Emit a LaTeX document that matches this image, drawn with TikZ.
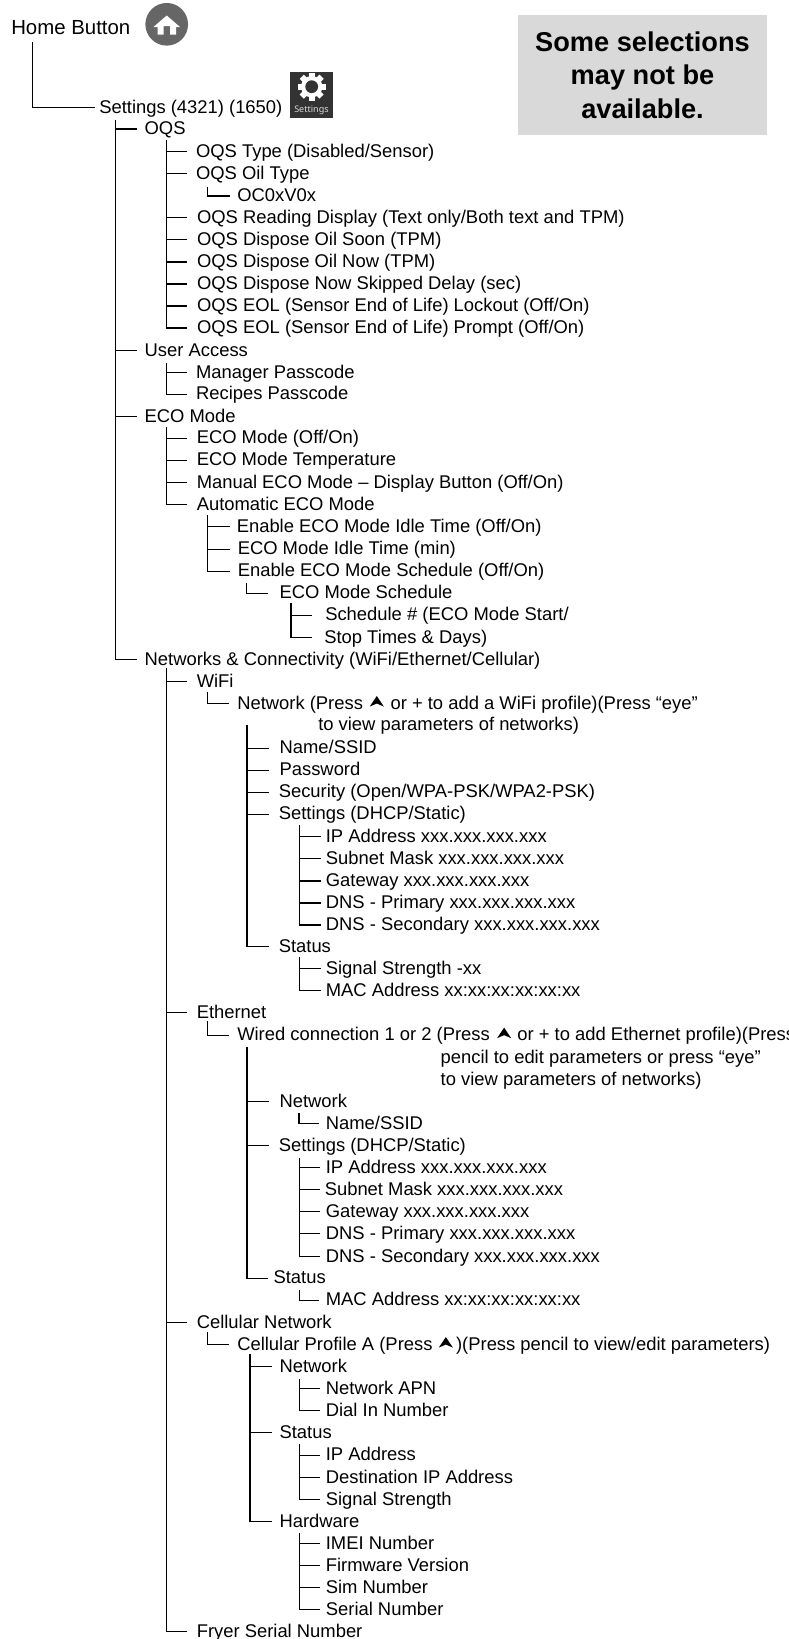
\documentclass[tikz,border=0pt]{standalone}
\usepackage{fontspec}
\usetikzlibrary{calc}
\setmainfont{Liberation Sans}
\newfontfamily\iconfont{Noto Sans}
\definecolor{boxgray}{HTML}{D9D9D9}
\definecolor{homegray}{HTML}{666666}
\definecolor{icondark}{HTML}{333333}
\tikzset{
  ln/.style={draw=black,line width=1pt},
  lab/.style={anchor=west,inner sep=0pt,yshift=-.75pt,text height=10.7pt,text depth=2.7pt,font=\fontsize{13.8}{18}\selectfont},
  note/.style={fill=boxgray,inner sep=0pt,minimum width=186.75pt,minimum height=90pt,align=center,font=\fontsize{20.4}{25}\selectfont\bfseries}
}
\newcommand\lb[4]{\node[lab] (#1) at (#2,#3) {#4};}
\newcommand\tp[3]{\coordinate (#1) at (#2,#3);}
\newcommand\tk[3]{\draw[ln] (#1 |- #2.west) -- ([xshift=-#3*.75pt]#2.west);}
\newcommand\el[3]{\draw[ln] (#1) |- ([xshift=-#3*.75pt]#2.west);}
\newcommand\uphead[2]{\fill[black] ([xshift=#2*.75pt]#1.base east) ++(0,-13) -- ++(7,10.5) -- ++(-7,-3) -- ++(-7,3) -- cycle;}
\begin{document}
\begin{tikzpicture}[x=.75pt,y=-.75pt]
\useasboundingbox (0,0) rectangle (789,1639);
\node[note] (n) at (642.5,75) {Some selections\\may not be\\available.};
% icons
\node[circle,fill=homegray,inner sep=0pt,minimum size=32pt] (hi) at (166.7,24.3) {};
\fill[white] (166.7,15.5) -- (180,27) -- (176,27) -- (176,34.5) -- (170,34.5) -- (170,26) -- (163.5,26) -- (163.5,34.5) -- (157.5,34.5) -- (157.5,27) -- (153.5,27) -- cycle;
\node[fill=icondark,inner sep=0pt,minimum width=32.25pt,minimum height=34.25pt] (si) at (311.5,94.8) {};
\coordinate (g) at (311.7,86.7);
\foreach \a in {0,45,...,315}{\fill[white,rotate around={\a:(g)}] ($(g)+(-3,-14)$) rectangle ($(g)+(3,0)$);}
\fill[white] (g) circle (8pt);
\fill[icondark] (g) circle (4.8pt);
\node[inner sep=0pt,text=white!85!black,font=\iconfont\fontsize{6.8}{8}\selectfont] (st) at (311.5,110.5) {Settings};
% roots
\node[lab,font=\fontsize{15.3}{18}\selectfont] (home) at (11,28) {Home Button};
\lb{set}{99}{106.7}{Settings (4321) (1650)}
\draw[ln] (32.5,42) coordinate (h0) |- ([xshift=-3pt]set.west);
% level 1
\tp{A}{115.7}{120}
\lb{oqs}{144.4}{128}{OQS}
\lb{ua}{144.4}{349.7}{User Access}
\lb{eco}{144.4}{415.7}{ECO Mode}
\lb{net}{144.4}{658.7}{Networks \& Connectivity (WiFi/Ethernet/Cellular)}
\tk{A}{oqs}{7}\tk{A}{ua}{7}\tk{A}{eco}{7}\el{A}{net}{7}
% OQS
\tp{B}{166.6}{140}
\lb{o1}{195.8}{150.7}{OQS Type (Disabled/Sensor)}
\lb{o2}{195.8}{172.7}{OQS Oil Type}
\lb{o3}{196.8}{216.7}{OQS Reading Display (Text only/Both text and TPM)}
\lb{o4}{196.8}{238.7}{OQS Dispose Oil Soon (TPM)}
\lb{o5}{196.8}{261}{OQS Dispose Oil Now (TPM)}
\lb{o6}{196.8}{283}{OQS Dispose Now Skipped Delay (sec)}
\lb{o7}{196.8}{305}{OQS EOL (Sensor End of Life) Lockout (Off/On)}
\lb{o8}{196.8}{327}{OQS EOL (Sensor End of Life) Prompt (Off/On)}
\tk{B}{o1}{9}\tk{B}{o2}{9}\tk{B}{o3}{10}\tk{B}{o4}{10}\tk{B}{o5}{10}\tk{B}{o6}{10}\tk{B}{o7}{10}\el{B}{o8}{10}
\tp{B1}{207.3}{186.7}
\lb{o2a}{237}{195}{OC0xV0x}
\el{B1}{o2a}{7}
% user access
\tp{C}{166.6}{363}
\lb{u1}{195.8}{371.7}{Manager Passcode}
\lb{u2}{195.8}{393.5}{Recipes Passcode}
\tk{C}{u1}{9}\el{C}{u2}{9}
% ECO
\tp{D}{166.6}{427.3}
\lb{e1}{196.5}{437.3}{ECO Mode (Off/On)}
\lb{e2}{196.5}{459.3}{ECO Mode Temperature}
\lb{e3}{196.5}{481.7}{Manual ECO Mode – Display Button (Off/On)}
\lb{e4}{196.5}{503.7}{Automatic ECO Mode}
\tk{D}{e1}{9.5}\tk{D}{e2}{9.5}\tk{D}{e3}{9.5}\el{D}{e4}{9.5}
\tp{E}{207.8}{515}
\lb{a1}{236.5}{525.7}{Enable ECO Mode Idle Time (Off/On)}
\lb{a2}{237.5}{548.3}{ECO Mode Idle Time (min)}
\lb{a3}{237.5}{570.3}{Enable ECO Mode Schedule (Off/On)}
\tk{E}{a1}{7}\tk{E}{a2}{8}\el{E}{a3}{8}
\tp{F}{246.6}{583}
\lb{s0}{279.3}{592.3}{ECO Mode Schedule}
\el{F}{s0}{11}
\tp{G}{291}{603}
\lb{s1}{325}{614.3}{Schedule \# (ECO Mode Start/}
\lb{s2}{324}{636.7}{Stop Times \& Days)}
\tk{G}{s1}{13}\el{G}{s2}{12}
% networks
\tp{N}{166.6}{668}
\lb{wifi}{196.5}{680.7}{WiFi}
\lb{eth}{196.5}{1011.7}{Ethernet}
\lb{cel}{196.5}{1321.7}{Cellular Network}
\lb{fry}{196.5}{1630.7}{Fryer Serial Number}
\tk{N}{wifi}{9.5}\tk{N}{eth}{9.5}\tk{N}{cel}{9.5}\el{N}{fry}{9.5}
% wifi
\tp{W}{207.3}{691.7}
\lb{w0}{237}{702.7}{Network (Press}
\node[lab,anchor=base west,yshift=.75pt] (w0b) at ([xshift=20.25pt]w0.base east) {or + to add a WiFi profile)(Press “eye”};
\uphead{w0}{13.5}
\lb{w0c}{318}{724.3}{to view parameters of networks)}
\el{W}{w0}{8}
\tp{X}{247}{725}
\lb{w1}{279.3}{747.3}{Name/SSID}
\lb{w2}{279.3}{769.3}{Password}
\lb{w3}{278.5}{791.3}{Security (Open/WPA-PSK/WPA2-PSK)}
\lb{w4}{278.5}{813.3}{Settings (DHCP/Static)}
\lb{w5}{278.5}{945.7}{Status}
\tk{X}{w1}{10}\tk{X}{w2}{10}\tk{X}{w3}{9.5}\tk{X}{w4}{9.5}\el{X}{w5}{9.5}
\tp{Y}{299.5}{825}
\lb{y1}{325.6}{835.7}{IP Address xxx.xxx.xxx.xxx}
\lb{y2}{325.6}{857.7}{Subnet Mask xxx.xxx.xxx.xxx}
\lb{y3}{325.6}{880}{Gateway xxx.xxx.xxx.xxx}
\lb{y4}{325.6}{902}{DNS - Primary xxx.xxx.xxx.xxx}
\lb{y5}{325.6}{924}{DNS - Secondary xxx.xxx.xxx.xxx}
\tk{Y}{y1}{4.5}\tk{Y}{y2}{4.5}\tk{Y}{y3}{4.5}\tk{Y}{y4}{4.5}\el{Y}{y5}{4.5}
\tp{Z}{299.5}{957}
\lb{z1}{325.6}{967.7}{Signal Strength -xx}
\lb{z2}{325.6}{989.7}{MAC Address xx:xx:xx:xx:xx:xx}
\tk{Z}{z1}{4.5}\el{Z}{z2}{4.5}
% ethernet
\tp{Et}{207.3}{1021}
\lb{t0}{237}{1034.3}{Wired connection 1 or 2 (Press}
\node[lab,anchor=base west,yshift=.75pt] (t0b) at ([xshift=20.25pt]t0.base east) {or + to add Ethernet profile)(Press};
\uphead{t0}{14}
\lb{t0c}{440.4}{1056.7}{pencil to edit parameters or press “eye”}
\lb{t0d}{440.4}{1078.7}{to view parameters of networks)}
\el{Et}{t0}{8}
\tp{P}{247}{1046.7}
\lb{p1}{279.3}{1100.7}{Network}
\lb{p2}{278.5}{1144.7}{Settings (DHCP/Static)}
\lb{p3}{273.3}{1277.3}{Status}
\tk{P}{p1}{10}\tk{P}{p2}{9.5}\el{P}{p3}{5.5}
\tp{Q}{299}{1113}
\lb{q1}{325.6}{1122.7}{Name/SSID}
\el{Q}{q1}{6.5}
\tp{R}{299.5}{1158.3}
\lb{r1}{325.6}{1166.7}{IP Address xxx.xxx.xxx.xxx}
\lb{r2}{324.5}{1188.7}{Subnet Mask xxx.xxx.xxx.xxx}
\lb{r3}{325.6}{1210.7}{Gateway xxx.xxx.xxx.xxx}
\lb{r4}{325.6}{1232.7}{DNS - Primary xxx.xxx.xxx.xxx}
\lb{r5}{325.6}{1255.7}{DNS - Secondary xxx.xxx.xxx.xxx}
\tk{R}{r1}{6}\tk{R}{r2}{5}\tk{R}{r3}{6}\tk{R}{r4}{6}\el{R}{r5}{6}
\tp{S}{299.5}{1290}
\lb{v1}{325.6}{1299.3}{MAC Address xx:xx:xx:xx:xx:xx}
\el{S}{v1}{6.5}
% cellular
\tp{Ce}{207.3}{1331.7}
\lb{c0}{237}{1343.7}{Cellular Profile A (Press}
\node[lab,anchor=base west,yshift=.75pt] (c0b) at ([xshift=17.25pt]c0.base east) {)(Press pencil to view/edit parameters)};
\uphead{c0}{13}
\el{Ce}{c0}{8}
\tp{H}{250}{1354}
\lb{c1}{279.3}{1365.7}{Network}
\lb{c2}{279.3}{1431.7}{Status}
\lb{c3}{279.3}{1520.7}{Hardware}
\tk{H}{c1}{7.5}\tk{H}{c2}{7.5}\el{H}{c3}{7.5}
\tp{I}{299.5}{1379.3}
\lb{i1}{325.6}{1387.7}{Network APN}
\lb{i2}{325.6}{1409.7}{Dial In Number}
\tk{I}{i1}{6}\el{I}{i2}{6}
\tp{J}{299.5}{1444}
\lb{j1}{325.6}{1454.3}{IP Address}
\lb{j2}{325.6}{1476.7}{Destination IP Address}
\lb{j3}{325.6}{1498.7}{Signal Strength}
\tk{J}{j1}{6}\tk{J}{j2}{6}\el{J}{j3}{6}
\tp{K}{299.5}{1533}
\lb{k1}{325.6}{1542.7}{IMEI Number}
\lb{k2}{325.6}{1564.7}{Firmware Version}
\lb{k3}{325.6}{1586.7}{Sim Number}
\lb{k4}{325.6}{1608.7}{Serial Number}
\tk{K}{k1}{6}\tk{K}{k2}{6}\tk{K}{k3}{6}\el{K}{k4}{6}
\end{tikzpicture}
\end{document}
